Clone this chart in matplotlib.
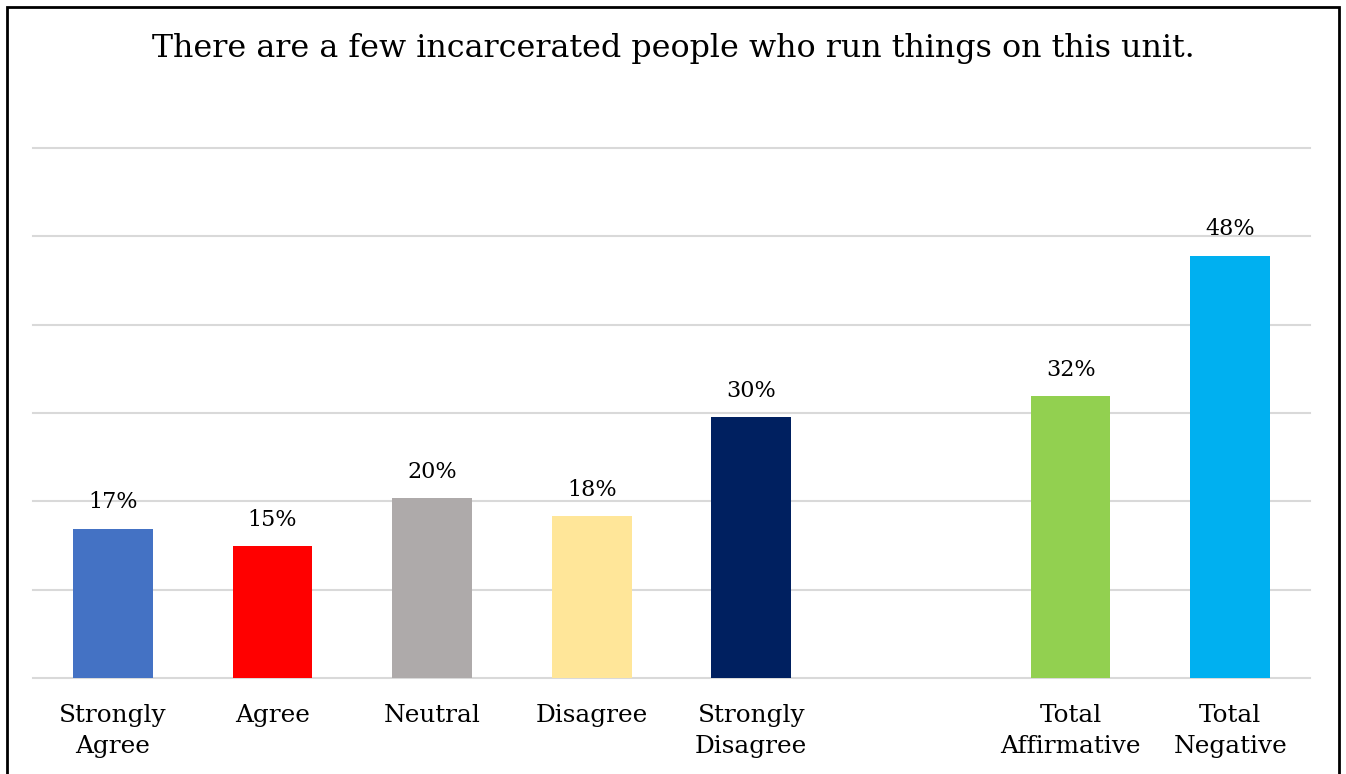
import matplotlib.pyplot as plt
from matplotlib.patches import Rectangle

categories = ['Strongly\nAgree', 'Agree', 'Neutral', 'Disagree', 'Strongly\nDisagree',
              'Total\nAffirmative', 'Total\nNegative']
positions = [0, 1, 2, 3, 4, 6, 7]
values = [17, 15, 20, 18, 30, 32, 48]
# actual bar heights look slightly off the rounded labels
heights = [16.9, 14.9, 20.4, 18.3, 29.5, 31.9, 47.8]
colors = ['#4472C4', '#FF0000', '#AEAAAA', '#FFE699', '#002060', '#92D050', '#00B0F0']

plt.rcParams['font.family'] = ['DejaVu Serif']

fig = plt.figure(figsize=(13.46, 7.74), dpi=100)
ax = fig.add_axes([33 / 1346, 1 - 678 / 774, (1310 - 33) / 1346, (678 - 148) / 774])

bars = ax.bar(positions, heights, width=0.5, color=colors, zorder=3)
for b, v in zip(bars, values):
    ax.annotate(f'{v}%', (b.get_x() + b.get_width() / 2, b.get_height()),
                xytext=(0, 11), textcoords='offset points',
                ha='center', va='bottom', fontsize=16)

ax.set_xlim(-0.5, 7.5)
ax.set_ylim(0, 60)
ax.set_yticks(range(0, 61, 10))
ax.yaxis.grid(True, color='#d9d9d9', linewidth=1.5, zorder=0)
for gl in ax.get_ygridlines():
    gl.set_clip_on(False)
ax.set_xticks(positions)
ax.set_xticklabels(categories, fontsize=17.8, linespacing=1.45)
ax.tick_params(axis='x', length=0, pad=19)
ax.tick_params(axis='y', length=0, labelleft=False)
for s in ax.spines.values():
    s.set_visible(False)

fig.text(0.5, 1 - 48 / 774, 'There are a few incarcerated people who run things on this unit.',
         ha='center', va='center', fontsize=22.9)

fig.patches.append(Rectangle((7 / 1346, -0.05), (1339 - 7) / 1346, 1.05 - 7 / 774,
                             transform=fig.transFigure, fill=False,
                             edgecolor='black', linewidth=2))

fig.savefig('out.png', dpi=100)
